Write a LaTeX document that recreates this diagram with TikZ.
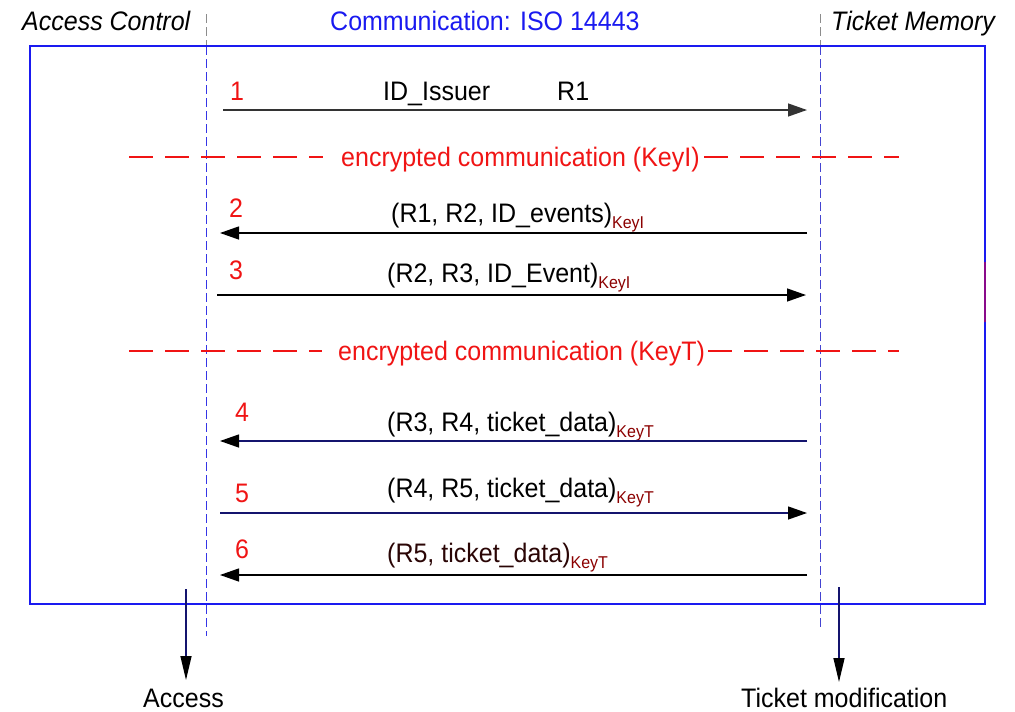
\documentclass[tikz,border=0pt]{standalone}
\usepackage{fontspec}
\setmainfont{Liberation Sans}
\usetikzlibrary{arrows.meta}

\definecolor{boxblue}{HTML}{1A1AF0}
\definecolor{edgepurple}{HTML}{8A0A8A}
\definecolor{msgred}{HTML}{F01414}
\definecolor{keyred}{HTML}{8B0000}
\definecolor{navyline}{HTML}{14146E}
\definecolor{lifeblue}{HTML}{3535E6}
\definecolor{lifegray}{HTML}{8C8C8C}
\definecolor{darkbrown}{HTML}{2A0505}

% slightly tall lettering used for all labels
\newcommand\vs[1]{\scalebox{1}[1.07]{#1}}
% subscript key name of an encrypted message
\newcommand\keysub[1]{\raisebox{-6.5pt}{\fontsize{16}{19}\selectfont\color{keyred}#1}}

\begin{document}
\begin{tikzpicture}[x=1pt,y=-1pt,
  lbl/.style={font=\fontsize{25}{30}\selectfont, inner sep=0pt, anchor=base west},
  title/.style={lbl, font=\fontsize{25}{30}\selectfont\itshape},
  num/.style={lbl, text=msgred},
  septext/.style={lbl, text=msgred},
  msg/.style={line width=1.3pt, -{Triangle[length=19pt,width=13pt]}},
  sep/.style={draw=msgred, line width=1.6pt, dash pattern=on 24pt off 12pt},
  life/.style={line width=1pt, dash pattern=on 9pt off 4pt},
  outarrow/.style={draw=navyline, line width=1.4pt, -{Triangle[length=24pt,width=11pt,color=black]}}
]
\useasboundingbox (0,0) rectangle (1015,712);

% column headings
\node[title] (hAC) at (22,30) {\vs{Access Control}};
\node[lbl, text=boxblue] (hCom) at (330,30) {\vs{Communication: ISO 14443}};
\node[title] (hTM) at (831,30) {\vs{Ticket Memory}};

% lifelines
\coordinate (lAtop) at (206,14);
\coordinate (lAbox) at (206,46);
\coordinate (lAend) at (206,636);
\coordinate (lBtop) at (820,14);
\coordinate (lBbox) at (820,46);
\coordinate (lBend) at (820,630);
\draw[life, draw=lifegray] (lAtop) -- (lAbox);
\draw[life, draw=lifeblue] (lAbox) -- (lAend);
\draw[life, draw=lifegray] (lBtop) -- (lBbox);
\draw[life, draw=lifeblue!80!gray] (lBbox) -- (lBend);

% frame
\draw[draw=boxblue, line width=2pt] (30,46) rectangle (985,604);
\draw[draw=edgepurple, line width=2.2pt] (985,262) -- (985,322);

% message 1
\node[num] (n1) at (230,100) {\vs{1}};
\node[lbl] (m1a) at (383,100) {\vs{ID\_Issuer}};
\node[lbl] (m1b) at (557,100) {\vs{R1}};
\coordinate (s1) at (223,110);
\coordinate (e1) at (807,110);
\draw[msg, draw=black!80] (s1) -- (e1);

% key I section
\coordinate (k1a) at (129,157);
\coordinate (k1b) at (323,157);
\coordinate (k1c) at (704,157);
\coordinate (k1d) at (899,157);
\draw[sep] (k1a) -- (k1b);
\draw[sep] (k1c) -- (k1d);
\node[septext] (t1) at (341,166) {\vs{encrypted communication (KeyI)}};

% message 2
\node[num] (n2) at (229,217) {\vs{2}};
\node[lbl] (m2) at (391,222) {\vs{(R1, R2, ID\_events)\keysub{KeyI}}};
\coordinate (s2) at (807,233);
\coordinate (e2) at (220,233);
\draw[msg] (s2) -- (e2);

% message 3
\node[num] (n3) at (229,279) {\vs{3}};
\node[lbl] (m3) at (387,282) {\vs{(R2, R3, ID\_Event)\keysub{KeyI}}};
\coordinate (s3) at (217,295);
\coordinate (e3) at (806,295);
\draw[msg] (s3) -- (e3);

% key T section
\coordinate (k2a) at (129,351);
\coordinate (k2b) at (322,351);
\coordinate (k2c) at (708,351);
\coordinate (k2d) at (899,351);
\draw[sep] (k2a) -- (k2b);
\draw[sep] (k2c) -- (k2d);
\node[septext] (t2) at (338,360) {\vs{encrypted communication (KeyT)}};

% message 4
\node[num] (n4) at (235,421) {\vs{4}};
\node[lbl] (m4) at (387,431) {\vs{(R3, R4, ticket\_data)\keysub{KeyT}}};
\coordinate (s4) at (807,441);
\coordinate (e4) at (220,441);
\draw[msg, draw=navyline, -{Triangle[length=19pt,width=13pt,color=black]}] (s4) -- (e4);

% message 5
\node[num] (n5) at (235,502) {\vs{5}};
\node[lbl] (m5) at (387,497) {\vs{(R4, R5, ticket\_data)\keysub{KeyT}}};
\coordinate (s5) at (220,513);
\coordinate (e5) at (807,513);
\draw[msg, draw=navyline, -{Triangle[length=19pt,width=13pt,color=black]}] (s5) -- (e5);

% message 6
\node[num] (n6) at (235,558) {\vs{6}};
\node[lbl, text=darkbrown] (m6) at (387,562) {\vs{(R5, ticket\_data)\keysub{KeyT}}};
\coordinate (s6) at (807,575);
\coordinate (e6) at (220,575);
\draw[msg] (s6) -- (e6);

% outputs
\node[lbl] (acc) at (143,707) {\vs{Access}};
\node[lbl] (tmod) at (741,707) {\vs{Ticket modification}};
\coordinate (oA) at (186,589);
\coordinate (oB) at (839,587);
\draw[outarrow] (oA) -- (oA |- 0,680);
\draw[outarrow] (oB) -- (oB |- 0,682);
\end{tikzpicture}
\end{document}
